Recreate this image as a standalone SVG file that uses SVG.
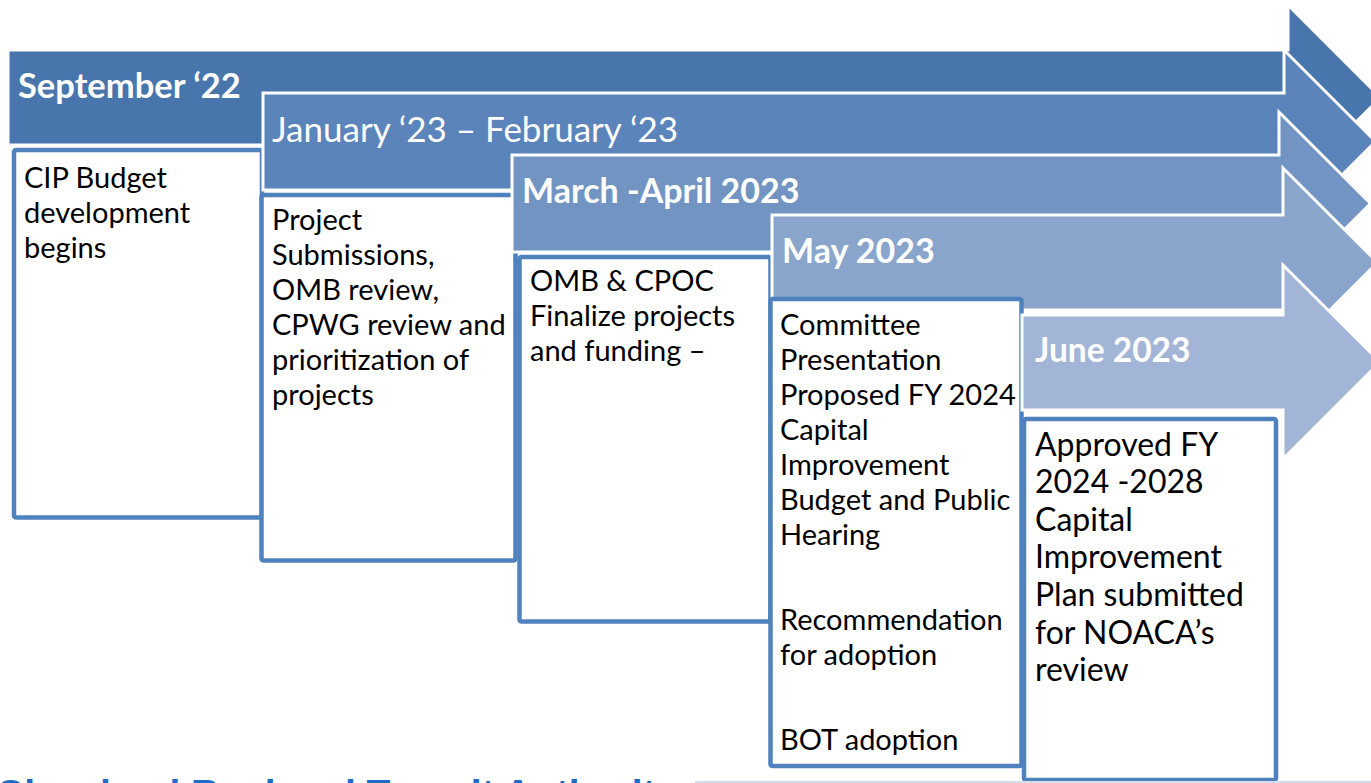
<svg xmlns="http://www.w3.org/2000/svg" width="1371" height="783" viewBox="0 0 1371 783">
<style>
.arr{stroke:#ffffff;stroke-width:3;stroke-linejoin:miter}
.box{fill:#ffffff;stroke:#4F81BD;stroke-width:4.5}
.hd{font-family:Lato,"Liberation Sans",sans-serif;font-size:35px;fill:#ffffff}
.b{font-weight:bold;font-size:34.5px}
.tx{font-family:Lato,"Liberation Sans",sans-serif;font-size:29px;fill:#000000}
.tx5{font-family:Lato,"Liberation Sans",sans-serif;font-size:32px;fill:#000000}
.foot{font-family:"Liberation Sans",Arial,sans-serif;font-size:39px;font-weight:bold;fill:#1F6BC8}
</style>
<rect width="1371" height="783" fill="#ffffff"/>
<g id="step1">
<path class="arr" fill="#4875AC" d="M8,50 H1288 V5 L1380.5,97.5 L1288,190 V145 H8 Z"/>
<text class="hd b" x="18" y="98">September ‘22</text>
<rect class="box" x="14" y="150" width="248" height="367.5" rx="2"/>
<text class="tx" x="24" y="188">CIP Budget</text>
<text class="tx" x="24" y="223">development</text>
<text class="tx" x="24" y="258">begins</text>
</g>
<g id="step2">
<path class="arr" fill="#5B84BB" d="M263,93 H1284 V50 L1375.5,141.5 L1284,233 V190 H263 Z"/>
<text class="hd" x="272" y="142" font-size="34.5">January ‘23 – February ‘23</text>
<rect class="box" x="261.5" y="195" width="254" height="365.5" rx="2"/>
<text class="tx" x="272" y="230">Project</text>
<text class="tx" x="272" y="265">Submissions,</text>
<text class="tx" x="272" y="300">OMB review,</text>
<text class="tx" x="272" y="335">CPWG review and</text>
<text class="tx" x="272" y="370">prioritization of</text>
<text class="tx" x="272" y="405">projects</text>
</g>
<g id="step3">
<path class="arr" fill="#7294C3" d="M512,155 H1279 V112 L1370.5,203.5 L1279,295 V252 H512 Z"/>
<text class="hd b" x="522" y="203" style="font-size:34px">March -April 2023</text>
<rect class="box" x="519.5" y="257" width="251" height="364.5" rx="2"/>
<text class="tx" x="530" y="291">OMB &amp; CPOC</text>
<text class="tx" x="530" y="326">Finalize projects</text>
<text class="tx" x="530" y="361">and funding –</text>
</g>
<g id="step4">
<path class="arr" fill="#8AA5CB" d="M772,215 H1283 V168 L1377.5,262.5 L1283,357 V310 H772 Z"/>
<text class="hd b" x="782" y="263" style="font-size:34px">May 2023</text>
<rect class="box" x="770.5" y="299" width="251" height="467" rx="2"/>
<text class="tx" x="780" y="335">Committee</text>
<text class="tx" x="780" y="370">Presentation</text>
<text class="tx" x="780" y="405">Proposed FY 2024</text>
<text class="tx" x="780" y="440">Capital</text>
<text class="tx" x="780" y="475">Improvement</text>
<text class="tx" x="780" y="510">Budget and Public</text>
<text class="tx" x="780" y="545">Hearing</text>
<text class="tx" x="780" y="630">Recommendation</text>
<text class="tx" x="780" y="665">for adoption</text>
<text class="tx" x="780" y="750">BOT adoption</text>
</g>
<g id="step5">
<path class="arr" fill="#A3B5D6" d="M1022,315 H1283 V265 L1380,362 L1283,459 V410 H1022 Z"/>
<text class="hd b" x="1035" y="362" style="font-size:33.5px">June 2023</text>
<rect class="box" x="1024" y="419" width="252" height="361" rx="2"/>
<text class="tx5" x="1035" y="456">Approved FY</text>
<text class="tx5" x="1035" y="493">2024 -2028</text>
<text class="tx5" x="1035" y="531">Capital</text>
<text class="tx5" x="1035" y="568">Improvement</text>
<text class="tx5" x="1035" y="606">Plan submitted</text>
<text class="tx5" x="1035" y="644">for NOACA’s</text>
<text class="tx5" x="1035" y="681">review</text>
</g>
<g id="connectors"></g>
<g id="footer">
<line x1="695" y1="782" x2="1371" y2="782" stroke="#D3DEEC" stroke-width="2"/>
<text class="foot" x="-4" y="807">Cleveland Regional Transit Authority</text>
</g>
</svg>
